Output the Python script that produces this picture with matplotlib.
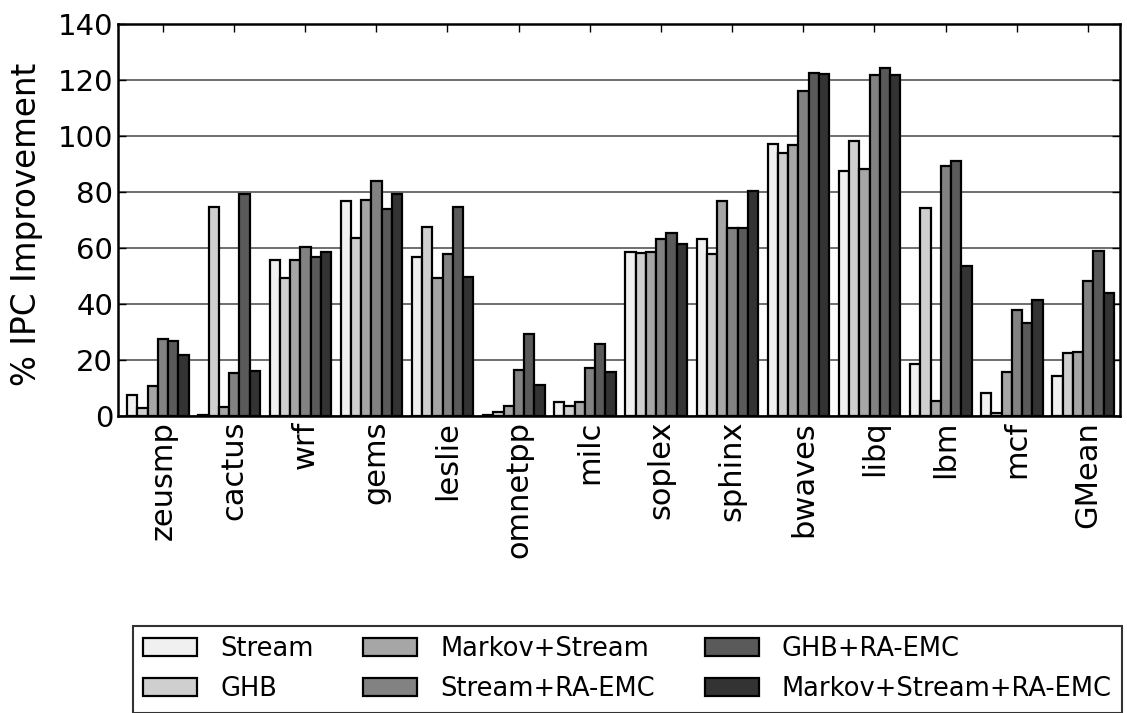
import numpy as np
import matplotlib
matplotlib.use("Agg")
import matplotlib.pyplot as plt

# benchmarks on the x axis
benchmarks = ["zeusmp", "cactus", "wrf", "gems", "leslie", "omnetpp", "milc",
              "soplex", "sphinx", "bwaves", "libq", "lbm", "mcf", "GMean"]

# % IPC improvement per scheme
stream = [7.5, 0.2, 55.6, 76.9, 56.8, 0.5, 5.1, 58.6, 63.2, 97.3, 87.5, 18.4, 8.2, 14.3]
ghb = [2.7, 74.5, 49.3, 63.6, 67.4, 1.4, 3.7, 58.2, 58.0, 93.9, 98.3, 74.4, 0.9, 22.5]
markov_stream = [10.7, 3.1, 55.6, 77.1, 49.2, 3.6, 5.0, 58.4, 76.9, 96.8, 88.1, 5.4, 15.8, 22.7]
stream_ra = [27.5, 15.5, 60.4, 84.0, 57.9, 16.5, 17.3, 63.2, 67.3, 116.2, 121.7, 89.2, 38.0, 48.2]
ghb_ra = [26.7, 79.3, 56.9, 74.1, 74.5, 29.3, 25.8, 65.4, 67.3, 122.6, 124.3, 91.2, 33.3, 58.9]
markov_stream_ra = [21.9, 16.2, 58.4, 79.2, 49.5, 11.2, 15.6, 61.3, 80.2, 122.1, 121.9, 53.7, 41.3, 44.1]

labels = ["Stream", "GHB", "Markov+Stream", "Stream+RA-EMC", "GHB+RA-EMC",
          "Markov+Stream+RA-EMC"]
series = [stream, ghb, markov_stream, stream_ra, ghb_ra, markov_stream_ra]
colors = ["#f0f0f0", "#cfcfcf", "#a6a6a6", "#828282", "#5a5a5a", "#333333"]

fig = plt.figure(figsize=(11.27, 7.13), dpi=100)
ax = fig.add_axes([118 / 1127, 1 - 416 / 713, 1002 / 1127, 392 / 713])

ind = np.arange(len(benchmarks))
width = 0.144
for i, (vals, lab, col) in enumerate(zip(series, labels, colors)):
    ax.bar(ind + i * width, vals, width, align="edge", color=col,
           edgecolor="black", linewidth=1.6, label=lab, zorder=3)

ax.set_xlim(-0.13, 13.95)
ax.set_ylim(0, 140)
ax.set_yticks(range(0, 141, 20))
ax.set_xticks(ind + 0.5)
ax.set_xticklabels(benchmarks, rotation=90, fontsize=22)
ax.tick_params(axis="y", labelsize=21)
ax.tick_params(direction="in", top=True, right=True, length=6, width=1)
ax.set_ylabel("% IPC Improvement", fontsize=23.5)
ax.yaxis.set_label_coords(-75 / 1002, 0.49)
ax.yaxis.grid(True, color="#555555", linewidth=1.2, zorder=0)
ax.set_axisbelow(True)
for s in ax.spines.values():
    s.set_linewidth(1.8)

# legend box spans the lower part of the figure
leg = fig.legend(loc="upper left",
                 bbox_to_anchor=(133 / 1127, 2 / 713, 989 / 1127, 85 / 713),
                 mode="expand", ncol=3, fontsize=18.5, frameon=True,
                 fancybox=False, handlelength=2.1, handleheight=0.7,
                 handletextpad=0.9, columnspacing=1.5, labelspacing=0.55,
                 borderpad=0.4, borderaxespad=0)
leg.get_frame().set_edgecolor("black")
leg.get_frame().set_linewidth(1.5)

fig.savefig("out.png", dpi=100)
